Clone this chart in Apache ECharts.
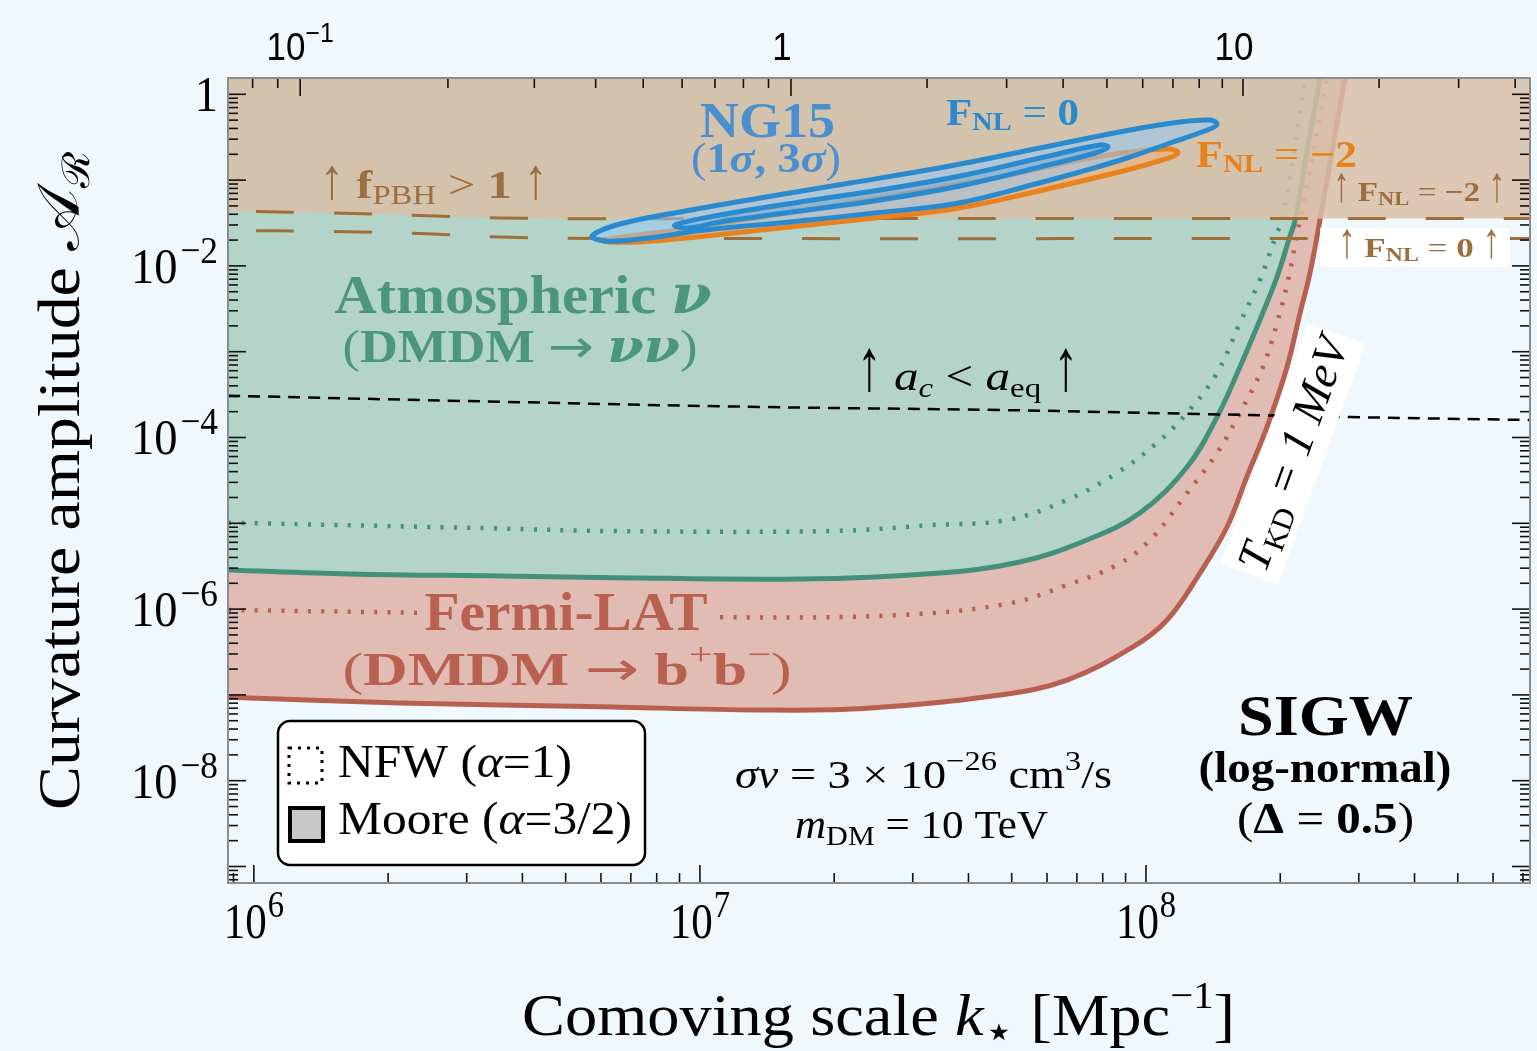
<!DOCTYPE html>
<html>
<head>
<meta charset="utf-8">
<title>SIGW constraints</title>
<script src="https://cdn.jsdelivr.net/npm/echarts@6.0.0/dist/echarts.min.js"></script>
<style>
html,body{margin:0;padding:0;background:#f0f8ff;overflow:hidden;}
#chart{width:1537px;height:1051px;}
</style>
</head>
<body>
<div id="chart"></div>
<script>
// ================= DATA =================
// x : comoving scale k* [Mpc^-1]     y : curvature amplitude A_R
const X_MIN = 8.75e5, X_MAX = 7.26e8, Y_MIN = 6.42e-10, Y_MAX = 1.549;

// Atmospheric nu, Moore profile (solid green)
const atmMooreK = [8.75e5, 1.64e6, 3.56e6, 5.97e6, 1.68e7, 3.33e7, 5.22e7, 7.37e7, 9.69e7, 1.236e8, 1.443e8, 1.624e8, 1.80e8, 1.967e8, 2.10e8, 2.16e8, 2.30e8, 2.455e8];
const atmMooreA = [2.86e-6, 2.57e-6, 2.43e-6, 2.34e-6, 2.24e-6, 2.60e-6, 3.54e-6, 6.38e-6, 1.32e-5, 4.53e-5, 1.73e-4, 6.64e-4, 2.34e-3, 7.43e-3, 2.17e-2, 3.43e-2, 0.224, 1.55];
// Atmospheric nu, NFW profile (dotted green)
const atmNfwK = [8.75e5, 3.43e6, 6.28e6, 1.987e7, 3.33e7, 4.88e7, 6.65e7, 8.61e7, 1.058e8, 1.236e8, 1.443e8, 1.624e8, 1.80e8, 1.967e8, 2.029e8, 2.273e8];
const atmNfwA = [1.016e-5, 8.74e-6, 8.13e-6, 8.13e-6, 9.55e-6, 1.09e-5, 1.87e-5, 3.86e-5, 8.63e-5, 1.93e-4, 5.65e-4, 2.16e-3, 6.85e-3, 2.42e-2, 3.72e-2, 1.47];
// Fermi-LAT, Moore profile (solid red)
const fermiMooreK = [8.75e5, 2.125e6, 5.97e6, 1.363e7, 2.368e7, 4.71e7, 6.65e7, 9.35e7, 1.115e8, 1.322e8, 1.519e8, 1.684e8, 1.867e8, 2.071e8, 2.215e8, 2.332e8, 2.455e8, 2.794e8];
const fermiMooreA = [9.38e-8, 8.05e-8, 7.29e-8, 6.67e-8, 6.98e-8, 9.97e-8, 1.49e-7, 3.62e-7, 7.46e-7, 2.64e-6, 9.06e-6, 3.5e-5, 1.32e-4, 6.64e-4, 2.82e-3, 8.26e-3, 3.43e-2, 1.55];
// Fermi-LAT, NFW profile (dotted red)
const fermiNfwK = [8.75e5, 3.56e6, 1.109e7, 2.808e7, 4.96e7, 6.65e7, 8.61e7, 1.021e8, 1.236e8, 1.443e8, 1.624e8, 1.829e8, 1.967e8, 2.10e8, 2.181e8, 2.215e8, 2.546e8];
const fermiNfwA = [9.77e-7, 8.77e-7, 8.02e-7, 8.53e-7, 1.17e-6, 1.91e-6, 3.27e-6, 6.38e-6, 2.25e-5, 6.59e-5, 1.93e-4, 6.64e-4, 2.16e-3, 8.26e-3, 2.42e-2, 3.43e-2, 1.55];
// f_PBH > 1 boundaries (F_NL = -2 upper, F_NL = 0 lower)
const pbhFm2K = [8.75e5, 1.48e6, 2.356e6, 3.56e6, 5.97e6, 1.676e7, 7.89e7, 7.26e8];
const pbhFm2A = [4.36e-2, 4.14e-2, 3.87e-2, 3.62e-2, 3.55e-2, 3.56e-2, 3.57e-2, 3.57e-2];
const pbhF0K = [8.75e5, 1.48e6, 2.356e6, 3.56e6, 5.97e6, 7.26e8];
const pbhF0A = [2.59e-2, 2.52e-2, 2.39e-2, 2.17e-2, 2.09e-2, 2.09e-2];
// a_c < a_eq
const acK = [8.75e5, 3.56e6, 1.363e7, 4.71e7, 1.322e8, 2.867e8, 7.26e8];
const acA = [3.07e-4, 2.61e-4, 2.27e-4, 2.09e-4, 1.88e-4, 1.73e-4, 1.60e-4];
// NG15 contours (closed loops)
const ng15OuterK = [5.73e6, 6.62e6, 9.02e6, 1.363e7, 2.169e7, 3.636e7, 6.09e7, 9.21e7, 1.192e8, 1.391e8, 1.443e8, 1.391e8, 1.132e8, 9.07e7, 7.11e7, 5.876e7, 3.81e7, 2.47e7, 1.592e7, 1.031e7, 7.34e6, 6.12e6];
const ng15OuterA = [2.23e-2, 3.08e-2, 4.25e-2, 6.18e-2, 9.25e-2, 0.146, 0.2496, 0.3836, 0.4755, 0.5017, 0.4506, 0.394, 0.2706, 0.181, 0.1243, 9.50e-2, 5.41e-2, 4.14e-2, 3.25e-2, 2.62e-2, 2.06e-2, 1.95e-2];
const ng15InnerK = [8.79e6, 1.109e7, 1.676e7, 2.533e7, 3.83e7, 5.79e7, 7.89e7, 8.22e7, 7.69e7, 5.79e7, 3.83e7, 2.533e7, 1.676e7, 1.109e7, 9.40e6];
const ng15InnerA = [3.00e-2, 3.92e-2, 5.56e-2, 7.67e-2, 0.1116, 0.181, 0.2565, 0.243, 0.207, 0.1422, 8.54e-2, 5.86e-2, 4.36e-2, 3.25e-2, 2.76e-2];
const ng15Fm2K = [6.06e6, 7.34e6, 1.031e7, 1.592e7, 2.47e7, 3.81e7, 5.876e7, 9.07e7, 1.126e8, 1.18e8, 1.132e8, 9.21e7, 7.11e7, 4.71e7, 2.808e7, 1.676e7, 1.0e7, 6.97e6];
const ng15Fm2A = [1.95e-2, 1.90e-2, 2.23e-2, 2.84e-2, 3.62e-2, 4.73e-2, 7.67e-2, 0.1311, 0.181, 0.207, 0.2304, 0.2126, 0.1715, 0.1087, 6.71e-2, 4.36e-2, 2.84e-2, 2.23e-2];
// tick values
const xMajorExps = [6, 7, 8];
const yLabelExps = [0, -2, -4, -6, -8];
const topMajorVals = [0.1, 1, 10];
const topMinorVals = [0.08, 0.09, 0.2, 0.3, 0.4, 0.5, 0.6, 0.7, 0.8, 0.9, 2, 3, 4, 5, 6, 7, 8, 9, 20, 30, 40];
const topAnchorK = [1.27e6, 1.60e7, 1.65e8];   // k where the top-axis values 0.1, 1, 10 sit

// ================= STYLE / LAYOUT =================
const SERIF = '"Liberation Serif", "DejaVu Serif", serif';
const SANS = '"Liberation Sans", Arial, sans-serif';
const DJV = '"DejaVu Sans", sans-serif';
const DJVS = '"DejaVu Serif", serif';
const C_BLUE = '#2a8ad0', C_BLUE_T = '#4a8fcf', C_ORANGE = '#e8821e';
const C_BROWN = '#9d6f3e', C_BROWN_D = '#a06d36';
const C_GREEN = '#44917a', C_GREEN_F = '#b4d4ca', C_GREEN_T = '#4b977b';
const C_RED = '#b8604f', C_RED_F = '#e0bcb5', C_RED_T = '#b9614e';
const C_TAN = 'rgba(216,191,168,0.85)';
const GRID = {left: 228, top: 78, right: 7, bottom: 168};
const SMOOTH = 0.38;

function topToK(t) {
  const lt = Math.log10(t);
  const i = lt < 0 ? 0 : 1;
  const a0 = Math.log10(topMajorVals[i]), a1 = Math.log10(topMajorVals[i + 1]);
  const k0 = Math.log10(topAnchorK[i]), k1 = Math.log10(topAnchorK[i + 1]);
  return Math.pow(10, k0 + (lt - a0) * (k1 - k0) / (a1 - a0));
}
function logTicks(lo, hi) {
  const out = [];
  for (let d = Math.floor(Math.log10(lo)) - 1; d <= Math.ceil(Math.log10(hi)); d++) {
    for (let n = 1; n <= 9; n++) {
      const v = n * Math.pow(10, d);
      if (v >= lo * 0.9999 && v <= hi * 1.0001) out.push([v, n === 1 ? 1 : 0]);
    }
  }
  return out;
}
const tickData = [];
logTicks(X_MIN, X_MAX).forEach(([v, m]) => tickData.push([v, Y_MIN, 0, m]));
topMajorVals.forEach(t => tickData.push([topToK(t), Y_MAX, 1, 1]));
topMinorVals.forEach(t => tickData.push([topToK(t), Y_MAX, 1, 0]));
logTicks(Y_MIN, Y_MAX).forEach(([v, m]) => { tickData.push([X_MIN, v, 2, m]); tickData.push([X_MAX, v, 3, m]); });

// smooth path (cubic Bezier through the pixel points, tangent = neighbour chord)
function smoothPath(p, s) {
  const n = p.length, cin = [], cout = [];
  const dist = (a, b) => Math.hypot(b[0] - a[0], b[1] - a[1]);
  for (let i = 0; i < n; i++) {
    const pr = p[Math.max(i - 1, 0)], nx = p[Math.min(i + 1, n - 1)];
    const vx = nx[0] - pr[0], vy = nx[1] - pr[1];
    const d0 = i > 0 ? dist(p[i - 1], p[i]) : 0, d1 = i < n - 1 ? dist(p[i], p[i + 1]) : 0;
    const tot = (d0 + d1) || 1;
    cin[i] = [p[i][0] - vx * s * d0 / tot, p[i][1] - vy * s * d0 / tot];
    cout[i] = [p[i][0] + vx * s * d1 / tot, p[i][1] + vy * s * d1 / tot];
  }
  let d = 'M' + p[0][0] + ',' + p[0][1];
  for (let i = 0; i < n - 1; i++) {
    d += ' C' + cout[i][0] + ',' + cout[i][1] + ' ' + cin[i + 1][0] + ',' + cin[i + 1][1] + ' ' + p[i + 1][0] + ',' + p[i + 1][1];
  }
  return d;
}
function curveSeries(K, A, o) {
  return {
    type: 'custom', coordinateSystem: 'cartesian2d', z: o.z, silent: true, clip: true,
    data: [[K[0], A[0]]],
    renderItem: (params, api) => {
      const pts = K.map((k, i) => api.coord([k, A[i]]));
      const d = smoothPath(pts, SMOOTH);
      const kids = [];
      if (o.fill) {
        const top = api.coord([X_MIN, Y_MAX])[1] - 5;
        const a = pts[0], b = pts[pts.length - 1];
        kids.push({type: 'path', shape: {pathData: d + ' L' + b[0] + ',' + top + ' L' + a[0] + ',' + top + ' Z'},
          style: {fill: o.fill, stroke: 'none'}});
      }
      if (o.stroke) {
        kids.push({type: 'path', shape: {pathData: d},
          style: {fill: 'none', stroke: o.stroke, lineWidth: o.lineWidth, lineDash: o.lineDash || null,
            lineDashOffset: o.dashOffset || 0, lineCap: 'butt', lineJoin: 'round'}});
      }
      return {type: 'group', children: kids};
    }
  };
}
function polySeries(K, A, style, z) {
  return {
    type: 'custom', coordinateSystem: 'cartesian2d', z: z, silent: true, clip: true,
    data: [[K[0], A[0]]],
    renderItem: (params, api) => ({
      type: 'polygon',
      shape: {points: K.map((k, i) => api.coord([k, A[i]])), smooth: 0.4},
      style: Object.assign({lineJoin: 'round'}, style)
    })
  };
}
const axisCommon = {
  type: 'log', logBase: 10,
  axisLine: {show: true, onZero: false, lineStyle: {color: '#8c8c8c', width: 2}},
  axisTick: {show: false}, axisLabel: {show: false}, splitLine: {show: false}, z: 30
};
const DOT = [3, 10.3];
const DASH_BROWN = [38, 40];

const option = {
  backgroundColor: '#f0f8ff',
  animation: false,
  grid: Object.assign({containLabel: false, outerBoundsMode: 'none'}, GRID),
  xAxis: [
    Object.assign({}, axisCommon, {min: X_MIN, max: X_MAX, position: 'bottom'}),
    Object.assign({}, axisCommon, {min: X_MIN, max: X_MAX, position: 'top'})
  ],
  yAxis: [
    Object.assign({}, axisCommon, {min: Y_MIN, max: Y_MAX, position: 'left'}),
    Object.assign({}, axisCommon, {min: Y_MIN, max: Y_MAX, position: 'right'})
  ],
  series: [
    curveSeries(fermiMooreK, fermiMooreA, {z: 1, fill: C_RED_F, stroke: C_RED, lineWidth: 5}),
    curveSeries(atmMooreK, atmMooreA, {z: 2, fill: C_GREEN_F, stroke: C_GREEN, lineWidth: 5}),
    curveSeries(atmNfwK, atmNfwA, {z: 3, stroke: C_GREEN, lineWidth: 4.5, lineDash: DOT}),
    curveSeries(fermiNfwK, fermiNfwA, {z: 3, stroke: C_RED, lineWidth: 4.5, lineDash: DOT}),
    curveSeries(pbhFm2K, pbhFm2A, {z: 4, fill: C_TAN}),
    curveSeries(pbhFm2K, pbhFm2A, {z: 5, stroke: C_BROWN_D, lineWidth: 3, lineDash: DASH_BROWN, dashOffset: 50}),
    curveSeries(pbhF0K, pbhF0A, {z: 5, stroke: C_BROWN_D, lineWidth: 3, lineDash: DASH_BROWN, dashOffset: 50}),
    curveSeries(acK, acA, {z: 5, stroke: '#000', lineWidth: 2.5, lineDash: [12, 8]}),
    polySeries(ng15Fm2K, ng15Fm2A, {fill: 'rgba(250,170,100,0.45)', stroke: C_ORANGE, lineWidth: 5}, 6),
    polySeries(ng15OuterK, ng15OuterA, {fill: 'rgba(150,200,245,0.55)', stroke: C_BLUE, lineWidth: 5}, 7),
    polySeries(ng15InnerK, ng15InnerA, {fill: 'rgba(60,140,200,0.25)', stroke: C_BLUE, lineWidth: 5}, 8),
    {
      type: 'custom', coordinateSystem: 'cartesian2d', z: 20, silent: true, clip: false, data: tickData,
      renderItem: (params, api) => {
        const p = api.coord([api.value(0), api.value(1)]);
        const side = api.value(2), len = api.value(3) ? 18 : 10;
        let s;
        if (side === 0) s = {x1: p[0], y1: p[1], x2: p[0], y2: p[1] - len};
        else if (side === 1) s = {x1: p[0], y1: p[1], x2: p[0], y2: p[1] + len};
        else if (side === 2) s = {x1: p[0], y1: p[1], x2: p[0] + len, y2: p[1]};
        else s = {x1: p[0], y1: p[1], x2: p[0] - len, y2: p[1]};
        return {type: 'line', shape: s, style: {stroke: '#111', lineWidth: 1.6}};
      }
    }
  ]
};

const chart = echarts.init(document.getElementById('chart'), null, {renderer: 'canvas', width: 1537, height: 1051});
chart.setOption(option);

// ================= TEXT (math-like layout) =================
const mc = document.createElement('canvas').getContext('2d');
function fnt(s, it, b, ff) { return (it ? 'italic ' : '') + (b ? 'bold ' : '') + s + 'px ' + ff; }
function baseOff(font) { mc.font = font; mc.textBaseline = 'middle'; return mc.measureText('H').actualBoundingBoxDescent; }
function wid(t, font) { mc.font = font; mc.textBaseline = 'middle'; return mc.measureText(t).width; }
function mtext(segs, o) {
  const base = {s: o.size, it: 0, b: 0, ff: o.ff || SERIF, c: o.c || '#000', dy: 0, dx: 0, sx: 1, sy: 1};
  let cx = 0; const kids = [];
  segs.forEach(sg => {
    const st = Object.assign({}, base, typeof sg === 'string' ? {t: sg} : sg);
    const font = fnt(st.s, st.it, st.b, st.ff);
    cx += st.dx;
    kids.push({type: 'text', x: cx, y: st.dy, scaleX: st.sx, scaleY: st.sy, z: o.z || 100,
      style: {text: st.t, x: 0, y: -baseOff(font), font: font, fill: st.c, align: 'left', verticalAlign: 'middle', textAlign: 'left', textVerticalAlign: 'middle'}});
    cx += wid(st.t, font) * st.sx;
  });
  const sx = o.w ? o.w / cx : (o.sx || 1);
  const start = o.align === 'left' ? 0 : (o.align === 'right' ? -cx : -cx / 2);
  kids.forEach(k => { k.x += start; });
  return {type: 'group', x: o.x, y: o.y, rotation: o.rot || 0, scaleX: sx, scaleY: 1, z: o.z || 100, children: kids};
}
function rect(x, y, w, h, style, r) {
  return {type: 'rect', z: 100, shape: {x: x, y: y, width: w, height: h, r: r || 0}, style: style};
}
const up = (sy) => ({t: '↑', sy: sy});
const arrowR = {t: '→', ff: DJV, sx: 1.05};

const G = [];
// axis tick labels
xMajorExps.forEach(e => {
  const px = chart.convertToPixel({xAxisIndex: 0}, Math.pow(10, e));
  G.push(mtext(['10', {t: String(e), s: 38, dy: -21, dx: 1}], {x: px, y: 938, align: 'center', size: 50, sx: 0.86}));
});
yLabelExps.forEach(e => {
  const py = chart.convertToPixel({yAxisIndex: 0}, Math.pow(10, e));
  const segs = e === 0 ? ['1'] : ['10', {t: '−' + Math.abs(e), s: 38, dy: -20, dx: 3}];
  G.push(mtext(segs, {x: GRID.left - 10, y: py + 17, align: 'right', size: 50, sx: 0.93}));
});
const TOP_SHIFT = [0, -9, -9];
topMajorVals.forEach((t, i) => {
  const px = chart.convertToPixel({xAxisIndex: 0}, topToK(t));
  const e = Math.round(Math.log10(t));
  const segs = e === 0 ? ['1'] : (e === 1 ? ['10'] : ['10', {t: '−' + Math.abs(e), s: 27, dy: -18}]);
  G.push(mtext(segs, {x: px + TOP_SHIFT[i], y: 60, align: 'center', size: 38, ff: SANS, sx: 0.92}));
});

// axis titles
G.push(mtext(['Comoving scale ', {t: 'k', it: 1}, {t: '⋆', s: 46, dy: 12, ff: DJV}, ' [Mpc', {t: '−1', s: 38, dy: -27}, ']'],
  {x: 522, y: 1035, align: 'left', size: 60, w: 713}));
G.push(mtext(['Curvature amplitude ', {t: '𝒜'}, {t: 'ℛ', s: 38, dy: 10}],
  {x: 79, y: 481, align: 'center', size: 60, w: 658, rot: Math.PI / 2}));

// PBH labels
G.push(mtext([up(1.45), ' ', {t: 'f', b: 1}, {t: 'PBH', s: 27, dy: 6}, ' > ', {t: '1', b: 1}, ' ', up(1.45)],
  {x: 320, y: 198, align: 'left', size: 40, w: 228, c: C_BROWN}));
G.push(mtext([up(1.8), ' ', {t: 'F', b: 1}, {t: 'NL', s: 19, b: 1, dy: 4}, ' = ', {t: '−2', b: 1}, ' ', up(1.8)],
  {x: 1333, y: 201, align: 'left', size: 28, w: 172, c: C_BROWN}));
G.push(rect(1320, 228, 190, 39, {fill: '#ffffff'}));
G.push(mtext([up(1.8), ' ', {t: 'F', b: 1}, {t: 'NL', s: 19, b: 1, dy: 4}, ' = ', {t: '0', b: 1}, ' ', up(1.8)],
  {x: 1338, y: 257, align: 'left', size: 28, w: 162, c: C_BROWN}));

// NG15 labels
G.push(mtext([{t: 'NG15', b: 1}], {x: 767.5, y: 137, align: 'center', size: 50, w: 135, c: C_BLUE_T}));
G.push(mtext(['(', {t: '1', b: 1}, {t: 'σ', b: 1, it: 1}, {t: ', ', b: 1}, {t: '3', b: 1}, {t: 'σ', b: 1, it: 1}, ')'],
  {x: 766, y: 172, align: 'center', size: 42, w: 150, c: C_BLUE_T}));
G.push(mtext([{t: 'F', b: 1}, {t: 'NL', s: 25, b: 1, dy: 5}, ' = ', {t: '0', b: 1}],
  {x: 946, y: 125, align: 'left', size: 38, w: 133, c: C_BLUE}));
G.push(mtext([{t: 'F', b: 1}, {t: 'NL', s: 25, b: 1, dy: 5}, ' = ', {t: '−2', b: 1}],
  {x: 1196, y: 167, align: 'left', size: 38, w: 161, c: C_ORANGE}));

// region labels
G.push(mtext([{t: 'Atmospheric ', b: 1}, {t: 'ν', b: 1, it: 1, ff: DJVS}], {x: 523, y: 313, align: 'center', size: 54, w: 377, c: C_GREEN_T}));
G.push(mtext(['(', {t: 'DMDM', b: 1}, ' ', arrowR, ' ', {t: 'νν', b: 1, it: 1, ff: DJVS}, ')'], {x: 520, y: 362, align: 'center', size: 46, w: 355, c: C_GREEN_T}));
G.push(mtext([up(1.75), ' ', {t: 'a', it: 1}, {t: 'c', it: 1, s: 28, dy: 7}, ' < ', {t: 'a', it: 1}, {t: 'eq', s: 28, dy: 7}, ' ', up(1.75)],
  {x: 857, y: 390, align: 'left', size: 42, w: 221}));
G.push(rect(420, 596, 292, 37, {fill: C_RED_F}));
G.push(mtext([{t: 'Fermi-LAT', b: 1}], {x: 566, y: 630, align: 'center', size: 55, w: 283, c: C_RED_T}));
G.push(mtext(['(', {t: 'DMDM', b: 1}, ' ', arrowR, ' ', {t: 'b', b: 1}, {t: '+', s: 32, dy: -20}, {t: 'b', b: 1}, {t: '−', s: 32, dy: -20}, ')'],
  {x: 567, y: 685, align: 'center', size: 47, w: 449, c: C_RED_T}));

// SIGW block
G.push(mtext([{t: 'SIGW', b: 1}], {x: 1325.5, y: 735, align: 'center', size: 58, w: 175}));
G.push(mtext([{t: '(log-normal)', b: 1}], {x: 1325, y: 782, align: 'center', size: 44, w: 253}));
G.push(mtext(['(', {t: 'Δ', b: 1}, ' = ', {t: '0.5', b: 1}, ')'], {x: 1325.5, y: 833, align: 'center', size: 44, w: 177}));

// cross-section / mass
G.push(mtext([{t: 'σv', it: 1}, ' = 3 × 10', {t: '−26', s: 28, dy: -18}, ' cm', {t: '3', s: 28, dy: -18}, '/s'],
  {x: 735, y: 788, align: 'left', size: 40, w: 377}));
G.push(mtext([{t: 'm', it: 1}, {t: 'DM', s: 28, dy: 7}, ' = 10 TeV'], {x: 795, y: 838, align: 'left', size: 40, w: 253}));

// T_KD = 1 MeV rotated box
G.push({type: 'group', x: 1293, y: 454, rotation: 70 * Math.PI / 180, z: 100, children: [
  rect(-128, -30.5, 256, 61, {fill: '#ffffff'}),
  mtext([{t: 'T', it: 1}, {t: 'KD', s: 30, dy: 8}, {t: ' = 1 MeV', it: 1}], {x: 0, y: 15, align: 'center', size: 46, w: 245})
]});

// legend
G.push(rect(278, 721, 367, 144, {fill: '#ffffff', stroke: '#000', lineWidth: 2.5}, 12));
G.push(rect(289, 748, 33, 35, {fill: 'none', stroke: '#000', lineWidth: 3, lineDash: [3, 6]}));
G.push(rect(290, 808, 33, 33, {fill: '#c8c8c8', stroke: '#000', lineWidth: 4}));
G.push(mtext(['NFW (', {t: 'α', it: 1}, '=1)'], {x: 338, y: 777, align: 'left', size: 46, w: 234}));
G.push(mtext(['Moore (', {t: 'α', it: 1}, '=3/2)'], {x: 338, y: 834, align: 'left', size: 46, w: 294}));

chart.setOption({graphic: {elements: G}});
</script>
</body>
</html>
